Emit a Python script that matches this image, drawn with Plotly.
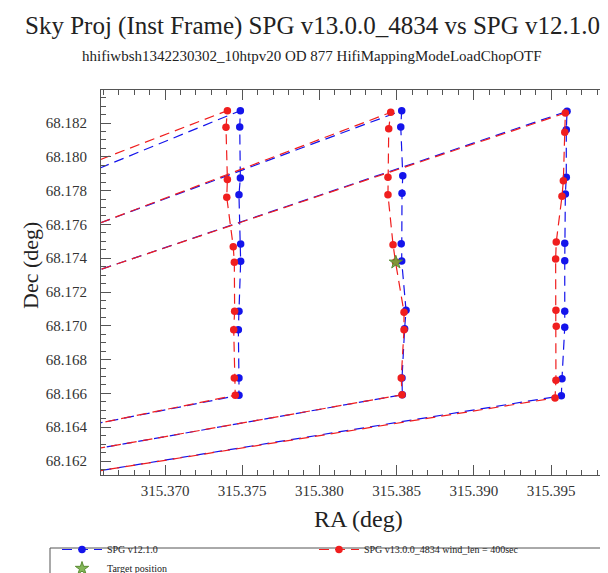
import plotly.graph_objects as go

# ---------------- data ----------------
# Far-left (off-plot) slew points are at RA 315.3600; each column runs top -> bottom.
blue_ra = [315.3600,
           315.37488, 315.37484, 315.37488, 315.37479, 315.37490, 315.37490, 315.37479, 315.37475, 315.37479, 315.37479,
           315.3600, None,
           315.3600,
           315.38533, 315.38527, 315.38540, 315.38535, 315.38530, 315.38533, 315.38561, 315.38552, 315.38535, 315.38537,
           315.3600, None,
           315.3600,
           315.39604, 315.39599, 315.39599, 315.39593, 315.39589, 315.39589, 315.39589, 315.39589, 315.39571, 315.39567,
           315.3600]
blue_dec = [68.17718,
            68.18273, 68.18176, 68.17875, 68.17776, 68.17484, 68.17382, 68.17086, 68.16977, 68.16691, 68.16589,
            68.16320, None,
            68.17411,
            68.18273, 68.18176, 68.17888, 68.17784, 68.17486, 68.17383, 68.17092, 68.16983, 68.16691, 68.16592,
            68.16183, None,
            68.17153,
            68.18269, 68.18160, 68.17879, 68.17780, 68.17488, 68.17385, 68.17086, 68.16991, 68.16687, 68.16586,
            68.16057]

red_ra = [315.3600,
          315.37404, 315.37395, 315.37404, 315.37400, 315.37442, 315.37449, 315.37451, 315.37445, 315.37449, 315.37455,
          315.3600, None,
          315.3600,
          315.38462, 315.38449, 315.38444, 315.38444, 315.38477, 315.38493, 315.38548, 315.38548, 315.38530, 315.38535,
          315.3600, None,
          315.3600,
          315.39593, 315.39589, 315.39580, 315.39571, 315.39534, 315.39530, 315.39532, 315.39534, 315.39532, 315.39526,
          315.3600]
red_dec = [68.17779,
           68.18273, 68.18175, 68.17865, 68.17760, 68.17468, 68.17376, 68.17086, 68.16977, 68.16691, 68.16589,
           68.16317, None,
           68.17407,
           68.18263, 68.18166, 68.17879, 68.17776, 68.17480, 68.17378, 68.17080, 68.16977, 68.16691, 68.16592,
           68.16183, None,
           68.17154,
           68.18259, 68.18145, 68.17859, 68.17766, 68.17496, 68.17395, 68.17092, 68.16997, 68.16678, 68.16573,
           68.16058]

target_ra = [315.38495]
target_dec = [68.17376]

series_names = ["SPG v12.1.0", "SPG v13.0.0_4834 wind_len = 400sec", "Target position"]
title_text = "Sky Proj (Inst Frame) SPG v13.0.0_4834 vs SPG v12.1.0"
subtitle_text = "hhifiwbsh1342230302_10htpv20 OD 877 HifiMappingModeLoadChopOTF"

# ---------------- figure ----------------
W, H = 608, 573
L, R, T, B = 93, 2, 82, 106
pw, ph = W - L - R, H - T - B

def px2paper_x(px):
    return (px - L) / pw

def px2paper_y(py):
    return (H - B - py) / ph

SERIF = "Liberation Serif, Times New Roman, serif"

fig = go.Figure()
fig.add_trace(go.Scatter(
    x=blue_ra, y=blue_dec, name=series_names[0], mode="lines+markers",
    line=dict(color="rgb(20,20,235)", width=1.2, dash="10px,6px"),
    marker=dict(color="rgb(20,20,235)", size=7.5, symbol="circle"),
    connectgaps=False,
))
fig.add_trace(go.Scatter(
    x=red_ra, y=red_dec, name=series_names[1], mode="lines+markers",
    line=dict(color="rgb(240,30,30)", width=1.2, dash="10px,6px"),
    marker=dict(color="rgb(240,30,30)", size=7.5, symbol="circle"),
    connectgaps=False,
))
fig.add_trace(go.Scatter(
    x=target_ra, y=target_dec, name=series_names[2], mode="markers",
    marker=dict(color="rgba(110,170,60,0.85)", size=10, symbol="star",
                line=dict(color="rgb(90,140,50)", width=1)),
))

axis_common = dict(
    showgrid=False, zeroline=False, showline=True, linecolor="#555", linewidth=1.2,
    mirror="ticks", ticks="inside", ticklen=10, tickwidth=1.2, tickcolor="#555",
    tickfont=dict(family=SERIF, size=15, color="#333"),
    tickformat=".3f",
)
fig.update_xaxes(range=[315.365855, 315.399080], dtick=0.005, tick0=315.370,
                 minor=dict(dtick=0.001, ticklen=5, ticks="inside", tickcolor="#555", tickwidth=1),
                 ticklabelstandoff=2, **axis_common)
fig.update_yaxes(range=[68.161172, 68.183953], dtick=0.002, tick0=68.162,
                 minor=dict(dtick=0.0005, ticklen=5, ticks="inside", tickcolor="#555", tickwidth=1),
                 ticklabelstandoff=10, **axis_common)

fig.update_layout(
    width=W, height=H,
    margin=dict(l=L, r=R, t=T, b=B, autoexpand=False),
    paper_bgcolor="white", plot_bgcolor="white",
    font=dict(family=SERIF, color="#222"),
    showlegend=True,
    legend=dict(
        orientation="h", x=px2paper_x(49), y=px2paper_y(527), xanchor="left", yanchor="top",
        borderwidth=0, bgcolor="rgba(0,0,0,0)",
        font=dict(family=SERIF, size=10, color="#222"),
        entrywidth=202, entrywidthmode="pixels", tracegroupgap=0,
        itemwidth=40,
    ),
    shapes=[
        dict(type="rect", xref="paper", yref="paper",
             x0=px2paper_x(42), x1=px2paper_x(604), y0=px2paper_y(540), y1=px2paper_y(600),
             line=dict(color="#555", width=1), fillcolor="rgba(0,0,0,0)", layer="below"),
    ],
    annotations=[
        dict(text=title_text, x=px2paper_x(304), y=px2paper_y(18), xref="paper", yref="paper",
             showarrow=False, xanchor="center", yanchor="middle",
             font=dict(family=SERIF, size=25, color="#222")),
        dict(text=subtitle_text, x=px2paper_x(304), y=px2paper_y(48), xref="paper", yref="paper",
             showarrow=False, xanchor="center", yanchor="middle",
             font=dict(family=SERIF, size=15, color="#222")),
        dict(text="RA (deg)", x=px2paper_x(350), y=px2paper_y(511), xref="paper", yref="paper",
             showarrow=False, xanchor="center", yanchor="middle",
             font=dict(family=SERIF, size=24, color="#222")),
        dict(text="Dec (deg)", x=px2paper_x(22), y=px2paper_y(258), xref="paper", yref="paper",
             showarrow=False, xanchor="center", yanchor="middle", textangle=-90,
             font=dict(family=SERIF, size=22, color="#222")),
    ],
)

fig.write_html("out.html")
